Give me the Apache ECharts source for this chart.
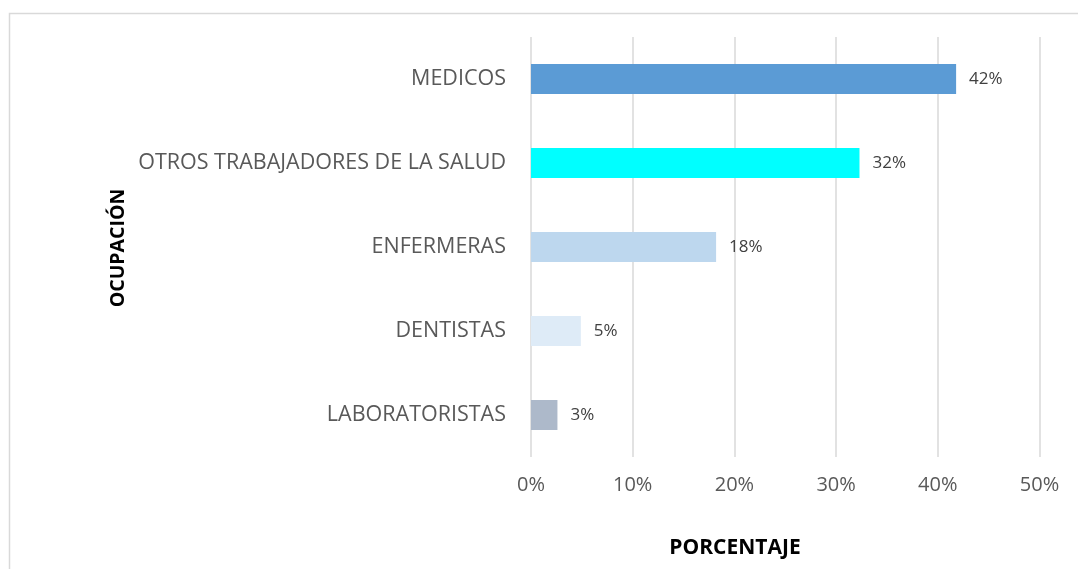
<!DOCTYPE html>
<html>
<head>
<meta charset="utf-8">
<script src="https://cdn.jsdelivr.net/npm/echarts@6/dist/echarts.min.js"></script>
<style>
  html, body { margin: 0; padding: 0; background: #fff; }
  #chart { width: 1078px; height: 569px; }
</style>
</head>
<body>
<div id="chart"></div>
<script>
// categories, bottom to top (category axis draws the first one at the bottom)
const ocupaciones = ['LABORATORISTAS', 'DENTISTAS', 'ENFERMERAS', 'OTROS TRABAJADORES DE LA SALUD', 'MEDICOS'];
const porcentajes = [2.6, 4.9, 18.2, 32.3, 41.8];
const colores = ['#ADB9CA', '#DEEBF7', '#BDD7EE', '#00FFFF', '#5B9BD5'];
const ticksX = [0, 10, 20, 30, 40, 50];

const font = '"Open Sans", Lato, sans-serif';

const chart = echarts.init(document.getElementById('chart'), null, { renderer: 'canvas' });

chart.setOption({
  backgroundColor: '#fff',
  animation: false,
  graphic: [
    {
      type: 'rect',
      shape: { x: 9.5, y: 13.5, width: 1100, height: 600 },
      style: { fill: 'none', stroke: '#d9d9d9', lineWidth: 1.5 },
      silent: true,
    },
    {
      type: 'text',
      x: 118, y: 248,
      rotation: Math.PI / 2,
      style: { text: 'OCUPACIÓN', font: 'bold 19.5px ' + font, fill: '#000', textAlign: 'center', textVerticalAlign: 'middle' },
    },
    {
      type: 'text',
      x: 735, y: 548,
      style: { text: 'PORCENTAJE', font: 'bold 21px ' + font, fill: '#000', textAlign: 'center', textVerticalAlign: 'middle' },
    },
  ],
  grid: { left: 531, right: 38.5, top: 37, bottom: 112, containLabel: false },
  xAxis: {
    type: 'value',
    min: ticksX[0],
    max: ticksX[ticksX.length - 1],
    interval: 10,
    axisLine: { show: false },
    axisTick: { show: false },
    splitLine: { lineStyle: { color: '#d9d9d9', width: 1.5 } },
    axisLabel: { formatter: '{value}%', color: '#595959', fontSize: 20, fontFamily: font, margin: 18 },
  },
  yAxis: {
    type: 'category',
    data: ocupaciones,
    axisLine: { show: false },
    axisTick: { show: false },
    axisLabel: { color: '#595959', fontSize: 21.5, fontFamily: font, margin: 25 },
  },
  series: [
    {
      type: 'bar',
      barWidth: 30,
      data: porcentajes.map((v, i) => ({ value: v, itemStyle: { color: colores[i] } })),
      label: {
        show: true,
        position: 'right',
        distance: 13,
        color: '#404040',
        fontSize: 17,
        fontFamily: font,
        formatter: p => Math.round(p.value) + '%',
      },
    },
  ],
});
</script>
</body>
</html>
